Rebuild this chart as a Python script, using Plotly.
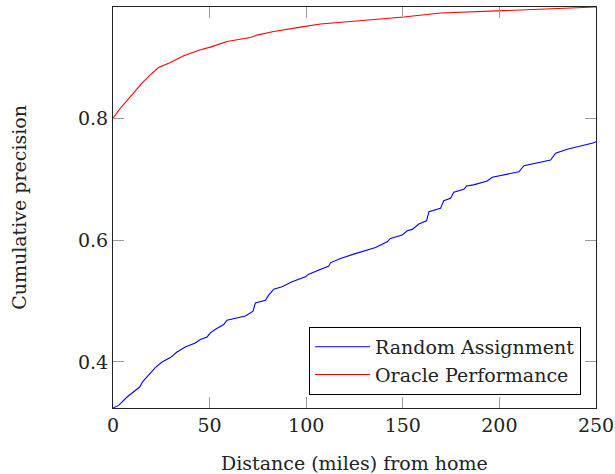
import plotly.graph_objects as go

# Cumulative precision as a function of distance from home
random_x = [0, 2.9, 7.3, 13.8, 15.5, 19.3, 21.9, 25.4, 29.7, 33.1, 37.4, 42.6, 45.2, 48.7,
            50.4, 53.0, 57.3, 59.0, 62.5, 68.5, 72.5, 73.7, 78.9, 80.6, 83.2, 87.5, 92.7,
            99.6, 101.3, 107.4, 111.7, 112.5, 117.7, 124.6, 130.7, 135.9, 141.9, 143.6,
            149.7, 152.3, 154.9, 158.3, 162.3, 163.5, 169.5, 171.2, 174.7, 176.4, 181.6,
            183.0, 186.6, 193.7, 196.3, 210.1, 212.7, 226.5, 229.1, 235.1, 248.9, 250]
random_y = [0.3245, 0.3288, 0.3425, 0.3589, 0.3683, 0.3809, 0.3908, 0.4000, 0.4072, 0.4164,
            0.4246, 0.4312, 0.4368, 0.4411, 0.4477, 0.4537, 0.4615, 0.4685, 0.4713, 0.4756,
            0.4833, 0.4970, 0.5014, 0.5096, 0.5195, 0.5233, 0.5315, 0.5397, 0.5441, 0.5523,
            0.5573, 0.5627, 0.5699, 0.5770, 0.5824, 0.5880, 0.5972, 0.6028, 0.6082, 0.6153,
            0.6176, 0.6263, 0.6317, 0.6465, 0.6521, 0.6646, 0.6685, 0.6784, 0.6833, 0.6887,
            0.6906, 0.6970, 0.7030, 0.7122, 0.7221, 0.7315, 0.7425, 0.7491, 0.7599, 0.7615]

oracle_x = [0, 3.8, 9.8, 15.0, 19.3, 23.6, 29.7, 36.6, 45.3, 50.4, 59.0, 71.1, 74.6, 83.2,
            97.0, 107.4, 122.9, 150.5, 169.5, 200.6, 221.3, 250]
oracle_y = [0.8000, 0.8164, 0.8383, 0.8575, 0.8712, 0.8832, 0.8914, 0.9024, 0.9122, 0.9167,
            0.9259, 0.9325, 0.9364, 0.9423, 0.9495, 0.9545, 0.9587, 0.9660, 0.9726, 0.9763,
            0.9796, 0.9824]

x_ticks = [0, 50, 100, 150, 200, 250]
y_ticks = [0.4, 0.6, 0.8]

FONT = "DejaVu Serif"
TEXT = "#222222"

fig = go.Figure()
fig.add_trace(go.Scatter(x=random_x, y=random_y, mode="lines", name="Random Assignment",
                         line=dict(color="#0000ff", width=1.1)))
fig.add_trace(go.Scatter(x=oracle_x, y=oracle_y, mode="lines", name="Oracle Performance",
                         line=dict(color="#ff0000", width=1.1)))

axis_common = dict(
    showgrid=False, zeroline=False, automargin=False,
    showline=True, linecolor="#222222", linewidth=1.2, mirror="ticks",
    ticks="inside", ticklen=11, tickwidth=1, tickcolor="#9a9a9a",
    tickfont=dict(family=FONT, size=19, color=TEXT),
)

fig.update_xaxes(range=[0, 250], tickvals=x_ticks, ticktext=[str(v) for v in x_ticks],
                 **axis_common)
fig.update_yaxes(range=[0.3245, 0.9825], tickvals=y_ticks,
                 ticktext=[f"{v:.1f}" for v in y_ticks], **axis_common)

# Axis titles placed as paper annotations
fig.add_annotation(text="Distance (miles) from home", xref="paper", yref="paper",
                   x=0.5, y=-0.138, xanchor="center", yanchor="middle", showarrow=False,
                   font=dict(family=FONT, size=19, color=TEXT))
fig.add_annotation(text="Cumulative precision", xref="paper", yref="paper",
                   x=-0.196, y=0.5, xanchor="center", yanchor="middle", showarrow=False,
                   textangle=-90, font=dict(family=FONT, size=19, color=TEXT))

fig.update_layout(
    width=615, height=474,
    margin=dict(l=113, r=19, t=7, b=66),
    paper_bgcolor="white", plot_bgcolor="white",
    font=dict(family=FONT, size=19, color=TEXT),
    showlegend=True,
    legend=dict(x=0.969, y=0.0325, xanchor="right", yanchor="bottom",
                bgcolor="white", bordercolor="#000000", borderwidth=1,
                font=dict(family=FONT, size=19, color=TEXT),
                tracegroupgap=0, itemwidth=55),
)

fig.write_html("out.html")
